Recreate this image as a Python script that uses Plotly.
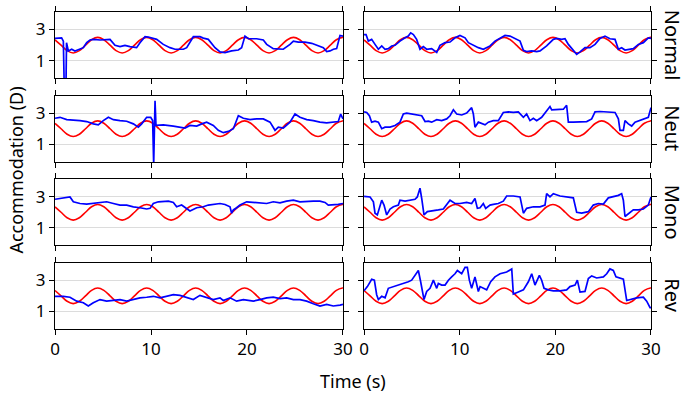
import plotly.graph_objects as go

# ---------------- data ----------------
conditions = ["Normal", "Neut", "Mono", "Rev"]
x_ticks = [0, 10, 20, 30]
y_ticks = [1, 3]

# stimulus (red)
stim_t = [0, 0.63, 1.26, 1.9, 2.54, 3.18, 3.81, 4.45, 5.09, 5.73, 6.36, 7.0, 7.64, 8.28, 8.91,
          9.55, 10.19, 10.83, 11.46, 12.1, 12.74, 13.38, 14.01, 14.65, 15.29, 15.93, 16.56,
          17.2, 17.84, 18.48, 19.11, 19.75, 20.39, 21.03, 21.66, 22.3, 22.94, 23.58, 24.21,
          24.85, 25.49, 26.13, 26.76, 27.4, 28.04, 28.68, 29.31, 29.95, 30]
stim_v = [2.34, 2.0, 1.65, 1.5, 1.65, 2.0, 2.35, 2.5, 2.35, 2.0, 1.65, 1.5, 1.65, 2.0, 2.35,
          2.5, 2.35, 2.0, 1.65, 1.5, 1.65, 2.0, 2.35, 2.5, 2.35, 2.0, 1.65,
          1.5, 1.65, 2.0, 2.35, 2.5, 2.35, 2.0, 1.65, 1.5, 1.65, 2.0, 2.35,
          2.5, 2.35, 2.0, 1.65, 1.5, 1.65, 2.0, 2.35, 2.5, 2.5]

normal_left_t = [0, 0.35, 0.69, 0.87, 0.95, 1.15, 1.2, 1.39, 1.74, 2.08, 2.6, 2.95, 3.3, 3.65, 4.0,
                 4.7, 5.73, 6.25, 6.77, 7.29, 7.81, 8.5, 8.85, 9.38, 9.72, 10.24, 10.59, 11.28,
                 11.98, 12.5, 13.37, 13.72, 14.24, 14.41, 15.1, 15.45, 15.97, 16.67, 17.19,
                 17.71, 18.4, 19.1, 19.44, 19.79, 20.14, 21.0, 21.7, 22.05, 22.74, 23.26, 23.78,
                 24.48, 24.83, 25.35, 26.04, 26.74, 27.26, 27.95, 28.3, 28.65, 29.0, 29.34,
                 29.69, 30.0]
normal_left_v = [2.43, 2.47, 2.47, 2.26, -0.3, -0.3, 2.16, 1.63, 1.74, 1.63, 1.74, 1.84, 2.16, 2.33,
                 2.37, 2.33, 2.37, 1.99, 1.91, 1.99, 1.91, 1.84, 2.16, 2.54, 2.52, 2.41, 2.37,
                 2.05, 1.84, 1.74, 1.74, 1.84, 2.41, 2.54, 2.54, 2.45, 2.37, 1.84, 1.57, 1.53,
                 1.63, 1.69, 1.84, 2.58, 2.41, 2.41, 2.33, 2.05, 1.78, 1.74, 1.74, 2.05, 2.26,
                 2.2, 2.2, 2.12, 1.99, 1.84, 1.59, 1.63, 1.74, 1.78, 2.62, 2.58]

normal_right_t = [0, 0.21, 0.45, 0.8, 1.15, 1.5, 1.85, 2.2, 2.54, 2.89, 3.24, 3.76, 4.29, 4.63,
                  4.88, 5.16, 5.5, 5.85, 6.2, 6.55, 7.07, 7.6, 7.94, 8.47, 8.99, 9.51, 10.03,
                  10.56, 10.91, 11.43, 11.95, 12.47, 12.82, 13.17, 13.69, 14.22, 14.74, 15.26,
                  15.78, 16.31, 16.66, 17.0, 17.53, 18.05, 18.4, 19.09, 19.79, 20.14, 20.66,
                  21.01, 21.36, 21.88, 22.23, 22.58, 23.1, 23.62, 24.15, 24.67, 25.19, 25.71,
                  26.24, 26.59, 26.93, 27.28, 27.8, 28.15, 28.68, 29.2, 29.72, 30.0]
normal_right_v = [2.68, 2.68, 2.26, 2.37, 2.05, 1.74, 1.95, 1.74, 1.78, 1.95, 1.99, 2.26, 2.47, 2.58,
                  2.79, 2.68, 2.37, 1.74, 1.91, 1.74, 1.78, 1.53, 1.99, 2.16, 2.2, 2.47, 2.62,
                  2.47, 2.16, 1.99, 1.84, 1.74, 1.84, 1.95, 2.26, 2.47, 2.62, 2.58, 2.41, 2.26,
                  1.67, 1.59, 1.63, 1.59, 1.63, 1.95, 2.37, 2.43, 2.37, 2.41, 2.05, 1.63, 1.42,
                  1.57, 1.84, 1.84, 2.05, 2.43, 2.58, 2.41, 2.37, 1.74, 1.84, 1.69, 1.74, 1.78,
                  2.05, 2.16, 2.47, 2.43]

neut_left_t = [0, 0.52, 1.22, 1.91, 2.6, 3.3, 3.99, 4.51, 5.03, 5.56, 6.08, 6.77, 7.47, 8.16, 8.68,
               9.03, 9.55, 9.97, 10.17, 10.28, 10.42, 10.52, 11.28, 12.33, 13.02, 13.54, 14.06,
               14.76, 15.28, 15.8, 16.49, 17.01, 17.53, 18.06, 18.58, 19.1, 19.62, 20.31, 21.01,
               21.7, 22.4, 22.92, 23.26, 23.78, 24.48, 25.0, 25.52, 26.22, 26.91, 27.6, 28.3,
               28.99, 29.51, 29.76, 30.0]
neut_left_v = [2.67, 2.73, 2.58, 2.56, 2.52, 2.46, 2.31, 2.25, 2.52, 2.73, 2.58, 2.52, 2.48, 2.31,
               2.1, 2.31, 2.73, 2.73, 2.52, -0.3, 3.78, 2.21, 2.25, 2.17, 2.1, 2.04, 2.21, 2.17,
               2.31, 2.42, 2.21, 1.9, 1.75, 1.83, 2.0, 2.83, 2.67, 2.58, 2.63, 2.63, 2.42, 1.9,
               2.1, 2.04, 2.42, 2.94, 2.73, 2.58, 2.52, 2.42, 2.38, 2.42, 2.46, 2.94, 2.63]

neut_right_t = [0, 0.28, 0.56, 0.8, 1.15, 1.5, 1.85, 2.2, 2.72, 3.24, 3.76, 4.11, 4.46, 5.16, 5.68,
                6.03, 6.38, 6.72, 7.07, 7.6, 8.12, 8.64, 8.99, 9.34, 9.69, 10.21, 10.73, 11.25,
                11.43, 11.6, 11.95, 12.3, 12.65, 13.0, 13.52, 14.04, 14.56, 15.09, 15.61, 16.13,
                16.66, 17.0, 17.35, 17.7, 18.05, 18.57, 18.92, 19.44, 19.62, 20.14, 20.84, 21.18,
                21.36, 21.88, 22.58, 23.28, 23.8, 24.15, 24.67, 25.37, 26.24, 26.59, 26.76, 27.11,
                27.28, 27.63, 27.98, 28.33, 28.85, 29.37, 29.72, 30.0]
neut_right_v = [3.08, 3.04, 2.83, 2.42, 2.48, 2.42, 2.0, 2.1, 2.1, 2.21, 2.42, 2.94, 3.0, 2.94, 2.88,
                2.83, 2.46, 2.48, 2.42, 2.58, 2.52, 2.63, 2.83, 3.21, 2.94, 2.88, 3.0, 3.35, 2.94,
                2.1, 2.42, 2.31, 2.25, 2.42, 2.52, 2.52, 3.04, 3.08, 3.04, 3.08, 2.73, 2.94, 2.52,
                2.67, 2.52, 2.73, 3.0, 3.42, 3.21, 3.21, 3.25, 3.5, 2.42, 2.42, 2.42, 2.46, 2.63,
                3.08, 3.1, 3.08, 3.04, 2.63, 1.9, 1.9, 2.52, 2.31, 2.17, 2.42, 2.52, 2.63, 2.73,
                3.35]

mono_left_t = [0, 0.69, 1.22, 1.56, 1.91, 2.6, 3.3, 3.99, 4.69, 5.38, 6.08, 6.77, 7.47, 8.16, 8.85,
               9.55, 9.9, 10.24, 10.76, 11.28, 11.81, 12.33, 12.67, 13.19, 13.72, 14.06, 14.76,
               15.45, 15.97, 16.49, 17.19, 17.71, 18.23, 18.4, 18.58, 18.92, 19.27, 19.97, 20.66,
               21.35, 22.05, 22.74, 23.44, 24.13, 24.83, 25.52, 26.22, 26.91, 27.6, 28.13, 28.47,
               28.99, 29.51, 30.0]
mono_left_v = [2.83, 2.88, 2.92, 2.98, 2.67, 2.56, 2.52, 2.56, 2.63, 2.67, 2.56, 2.46, 2.46, 2.35,
               2.29, 2.21, 2.25, 2.56, 2.67, 2.71, 2.71, 2.63, 2.35, 2.46, 2.21, 2.08, 2.29, 2.35,
               2.46, 2.52, 2.56, 2.5, 2.35, 1.94, 2.15, 2.29, 2.46, 2.67, 2.63, 2.56, 2.56, 2.67,
               2.6, 2.71, 2.77, 2.67, 2.71, 2.71, 2.71, 2.63, 2.46, 2.46, 2.5, 2.56]

mono_right_t = [0, 0.63, 0.98, 1.15, 1.39, 1.6, 1.85, 2.09, 2.37, 2.72, 3.07, 3.59, 3.76, 4.29, 4.81,
                5.33, 5.57, 5.85, 6.03, 6.27, 6.62, 7.25, 7.77, 8.29, 8.64, 8.99, 9.51, 10.03,
                10.73, 11.25, 11.6, 11.85, 12.13, 12.47, 12.72, 13.17, 13.52, 14.04, 14.56, 14.91,
                15.61, 16.31, 16.66, 17.0, 17.7, 18.4, 18.92, 19.09, 19.44, 19.79, 20.49, 21.18,
                21.88, 22.23, 22.75, 23.45, 23.97, 24.49, 25.02, 25.54, 26.06, 26.59, 26.93, 27.11,
                27.28, 27.63, 28.15, 28.68, 29.2, 29.72, 30.0]
mono_right_v = [3.02, 2.98, 2.67, 1.94, 1.83, 2.35, 2.77, 2.46, 1.83, 2.21, 2.35, 2.46, 2.77, 2.71,
                2.77, 2.83, 2.98, 3.54, 2.88, 1.83, 2.04, 2.08, 2.15, 2.21, 2.5, 2.77, 2.56, 2.56,
                2.63, 2.56, 2.88, 2.25, 2.29, 2.56, 2.25, 2.46, 2.5, 2.56, 2.71, 3.04, 3.04, 2.98,
                1.94, 2.25, 2.35, 2.35, 2.46, 3.19, 2.98, 3.19, 3.04, 2.98, 2.92, 2.0, 1.94, 2.04,
                2.46, 2.56, 2.52, 2.92, 2.98, 3.08, 3.19, 2.77, 1.73, 1.88, 2.15, 2.15, 2.21, 2.46,
                2.98]

rev_left_t = [0, 0.87, 1.56, 2.26, 2.95, 3.47, 3.99, 4.69, 5.38, 6.08, 6.77, 7.47, 8.16, 8.85, 9.55,
              10.24, 10.94, 11.63, 12.33, 13.02, 13.72, 14.41, 15.1, 15.8, 16.49, 17.19, 17.53,
              18.23, 18.92, 19.62, 20.66, 21.35, 22.05, 22.74, 23.44, 24.13, 24.83, 25.52, 26.22,
              26.91, 27.6, 28.3, 28.99, 29.69, 30.0]
rev_left_v = [1.97, 1.97, 1.91, 1.66, 1.56, 1.35, 1.56, 1.76, 1.66, 1.7, 1.76, 1.66, 1.76, 1.87, 1.91,
              1.97, 1.87, 1.97, 2.07, 2.03, 1.87, 1.76, 2.03, 1.87, 1.76, 1.87, 1.7, 1.87, 1.66,
              1.76, 1.66, 1.76, 1.87, 1.91, 1.82, 1.87, 1.76, 1.76, 1.66, 1.49, 1.35, 1.45, 1.35,
              1.41, 1.45]

rev_right_t = [0, 0.35, 0.8, 1.08, 1.32, 1.5, 1.85, 2.2, 2.54, 3.07, 3.59, 4.11, 4.63, 4.98, 5.33,
               5.68, 5.92, 6.27, 6.55, 6.9, 7.25, 7.6, 7.77, 8.12, 8.47, 8.82, 9.16, 9.51, 9.76,
               10.21, 10.56, 10.8, 11.01, 11.25, 11.6, 11.95, 12.13, 12.47, 12.82, 13.24, 13.69,
               14.22, 14.91, 15.44, 15.61, 16.13, 16.66, 17.18, 17.53, 17.87, 18.33, 18.57, 18.82,
               19.27, 19.79, 20.49, 21.18, 21.53, 22.06, 22.3, 22.58, 23.1, 23.45, 23.8, 24.32,
               25.02, 25.37, 25.71, 26.06, 26.34, 26.76, 27.11, 27.46, 27.8, 28.5, 29.2, 29.55,
               29.9, 30.0]
rev_right_v = [2.32, 2.59, 3.06, 3.0, 2.07, 1.76, 1.97, 1.87, 2.48, 2.59, 2.65, 2.79, 2.9, 3.0, 3.31,
               3.62, 2.9, 1.76, 2.28, 2.48, 3.0, 2.48, 2.79, 2.69, 2.69, 3.0, 3.21, 3.41, 3.62,
               3.41, 3.82, 3.82, 3.0, 2.48, 3.21, 2.28, 2.59, 2.48, 2.38, 2.9, 3.21, 3.41, 3.52,
               3.72, 2.11, 2.24, 2.38, 2.9, 3.41, 2.69, 3.31, 3.0, 2.48, 2.38, 2.32, 2.32, 2.38,
               2.59, 2.69, 3.0, 2.24, 2.28, 3.1, 3.27, 3.14, 3.21, 3.41, 3.72, 3.62, 3.21, 3.14,
               3.06, 1.7, 1.76, 1.87, 1.91, 1.66, 1.25, 1.25]

response = [
    [(normal_left_t, normal_left_v), (normal_right_t, normal_right_v)],
    [(neut_left_t, neut_left_v), (neut_right_t, neut_right_v)],
    [(mono_left_t, mono_left_v), (mono_right_t, mono_right_v)],
    [(rev_left_t, rev_left_v), (rev_right_t, rev_right_v)],
]

# ---------------- layout ----------------
FONT = "Noto Sans"
x_domains = [[0.0, 0.4832], [0.5185, 1.0]]
y_domains = [[0.7907, 1.0], [0.5271, 0.7364], [0.2636, 0.4729], [0.0, 0.2093]]

fig = go.Figure()
layout = {}
for r in range(4):
    for c in range(2):
        i = r * 2 + c + 1
        xa = "x" if i == 1 else f"x{i}"
        ya = "y" if i == 1 else f"y{i}"
        fig.add_trace(go.Scatter(x=stim_t, y=stim_v, mode="lines",
                                 line=dict(color="#ff0000", width=1.6, shape="spline", smoothing=1.0),
                                 xaxis=xa, yaxis=ya, showlegend=False, hoverinfo="skip"))
        bt, bv = response[r][c]
        fig.add_trace(go.Scatter(x=bt, y=bv, mode="lines",
                                 line=dict(color="#0000ff", width=1.7),
                                 xaxis=xa, yaxis=ya, showlegend=False, hoverinfo="skip"))
        common = dict(showline=True, linecolor="black", linewidth=1, mirror="allticks",
                      ticks="outside", ticklen=5, tickwidth=1, tickcolor="black",
                      zeroline=False, tickfont=dict(family=FONT, size=17, color="black"))
        layout["xaxis" if i == 1 else f"xaxis{i}"] = dict(
            domain=x_domains[c], anchor=ya, range=[0, 30], tickvals=x_ticks,
            showgrid=False, showticklabels=(r == 3), **common)
        layout["yaxis" if i == 1 else f"yaxis{i}"] = dict(
            domain=y_domains[r], anchor=xa, range=[-0.12, 4.12], tickvals=y_ticks,
            showgrid=True, gridcolor="#dcdcdc", gridwidth=1,
            showticklabels=(c == 0), **common)

annotations = []
for r, name in enumerate(conditions):
    yc = (y_domains[r][0] + y_domains[r][1]) / 2
    annotations.append(dict(text=name, xref="paper", yref="paper", x=1.036, y=yc,
                            textangle=90, showarrow=False, xanchor="center", yanchor="middle",
                            font=dict(family=FONT, size=20, color="black")))
annotations.append(dict(text="Accommodation (D)", xref="paper", yref="paper", x=-0.067, y=0.5,
                        textangle=-90, showarrow=False, xanchor="center", yanchor="middle",
                        font=dict(family=FONT, size=18, color="black")))
annotations.append(dict(text="Time (s)", xref="paper", yref="paper", x=0.5, y=-0.163,
                        showarrow=False, xanchor="center", yanchor="middle",
                        font=dict(family=FONT, size=18, color="black")))

fig.update_layout(width=686, height=393, margin=dict(l=55, r=35, t=6, b=64),
                  paper_bgcolor="white", plot_bgcolor="white", annotations=annotations,
                  font=dict(family=FONT), **layout)
fig.write_html("out.html", config={"displayModeBar": False},
               post_script="document.body.style.margin='0px';document.body.style.overflow='hidden';")
